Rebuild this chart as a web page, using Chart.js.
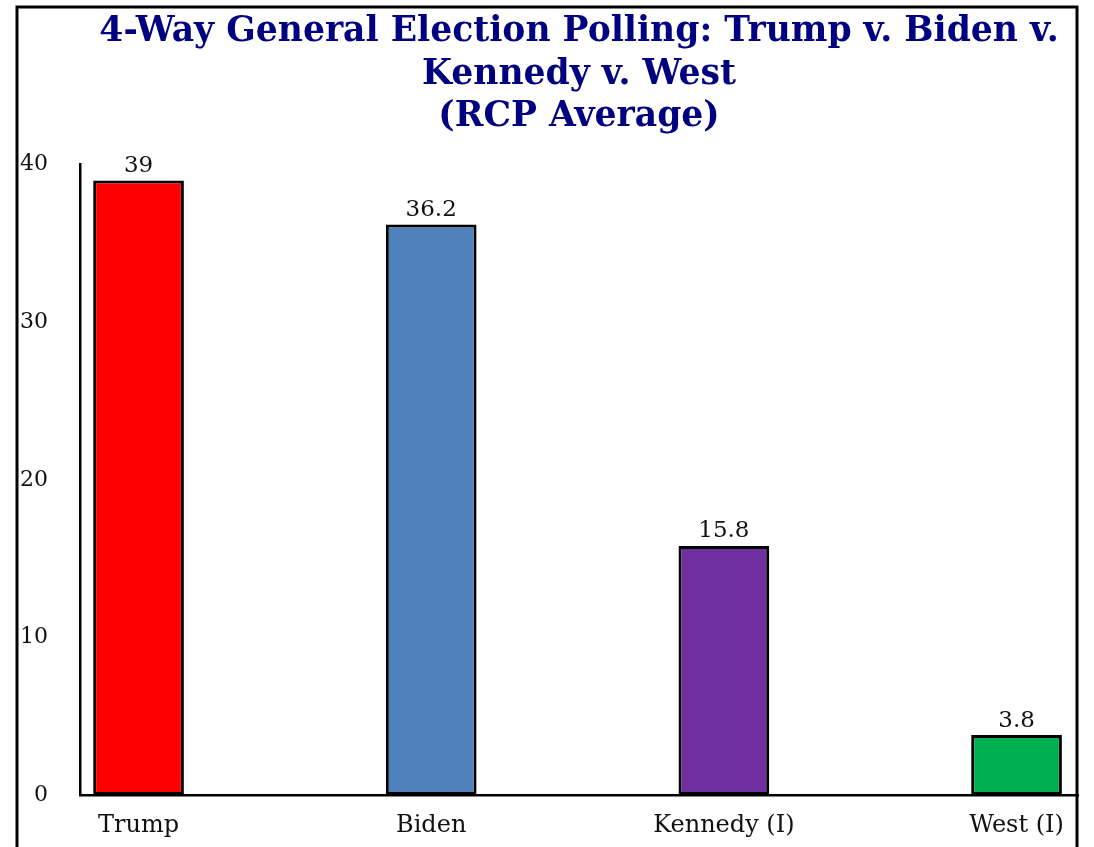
<!DOCTYPE html>
<html>
<head>
<meta charset="utf-8">
<script src="https://cdn.jsdelivr.net/npm/chart.js@4/dist/chart.umd.min.js"></script>
<style>
  html, body { margin: 0; padding: 0; background: #ffffff; }
  #wrap { position: relative; width: 1094px; height: 847px; }
</style>
</head>
<body>
<div id="wrap"><canvas id="poll-chart" width="1094" height="847"></canvas></div>
<script>
const candidates = ["Trump", "Biden", "Kennedy (I)", "West (I)"];
const pollValues = [39, 36.2, 15.8, 3.8];
const barColors = ["#ff0000", "#4f81bd", "#7030a0", "#00b050"];
const yTicks = [0, 10, 20, 30, 40];
const titleLines = [
  "4-Way General Election Polling: Trump v. Biden v.",
  "Kennedy v. West",
  "(RCP Average)",
];

const serif = "'DejaVu Serif', 'Liberation Serif', serif";

// outer black frame, like the boxed screenshot
const framePlugin = {
  id: "frame",
  afterDraw(chart) {
    const ctx = chart.ctx;
    ctx.save();
    ctx.strokeStyle = "#000000";
    ctx.lineWidth = 3;
    ctx.strokeRect(17, 7, 1060, 860);
    ctx.restore();
  },
};

// numbers above each bar
const valueLabels = {
  id: "valueLabels",
  afterDatasetsDraw(chart) {
    const ctx = chart.ctx;
    const meta = chart.getDatasetMeta(0);
    ctx.save();
    ctx.fillStyle = "#111111";
    ctx.font = `23px ${serif}`;
    ctx.textAlign = "center";
    ctx.textBaseline = "bottom";
    meta.data.forEach((bar, i) => {
      ctx.fillText(String(pollValues[i]), bar.x, bar.y - 3);
    });
    ctx.restore();
  },
};

new Chart(document.getElementById("poll-chart"), {
  type: "bar",
  data: {
    datasets: [
      {
        data: pollValues.map((v, i) => ({ x: i, y: v })),
        backgroundColor: barColors,
        borderColor: "#000000",
        borderWidth: 3,
        borderSkipped: false,
        barPercentage: 0.31,
        categoryPercentage: 1,
      },
    ],
  },
  options: {
    responsive: false,
    animation: false,
    layout: { padding: { left: 16, right: 16, top: 4, bottom: 0 } },
    plugins: {
      legend: { display: false },
      tooltip: { enabled: false },
      title: {
        display: true,
        fullSize: false,
        text: titleLines,
        color: "#000080",
        font: { family: serif, size: 34.6, weight: "bold", lineHeight: 1.23 },
        padding: { top: 7, bottom: 26 },
      },
    },
    scales: {
      x: {
        type: "linear",
        offset: false,
        min: -0.2,
        max: 3.21,
        grid: { display: false },
        border: { display: true, color: "#000000", width: 2.5 },
        afterFit: (scale) => {
          scale.height = 52;
        },
        ticks: {
          stepSize: 1,
          includeBounds: false,
          padding: 8,
          color: "#111111",
          font: { family: serif, size: 24 },
          callback: (value) => (Number.isInteger(value) ? candidates[value] : ""),
        },
      },
      y: {
        min: 0,
        max: 40,
        grid: { display: false },
        border: { display: true, color: "#000000", width: 2.5 },
        afterFit: (scale) => {
          scale.width = 64;
        },
        afterBuildTicks: (scale) => {
          scale.ticks = yTicks.map((v) => ({ value: v }));
        },
        ticks: {
          padding: 24,
          color: "#111111",
          font: { family: serif, size: 22 },
        },
      },
    },
  },
  plugins: [framePlugin, valueLabels],
});
</script>
</body>
</html>
